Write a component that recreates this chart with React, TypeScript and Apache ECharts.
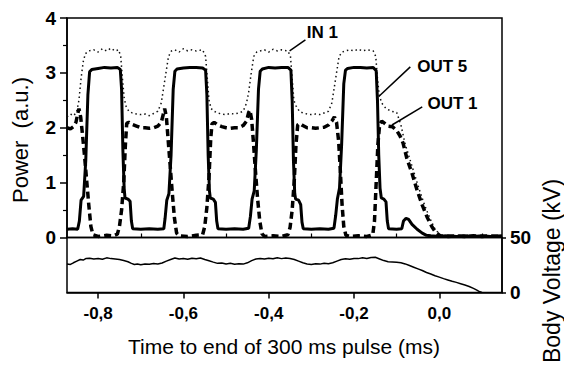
import React, { useEffect, useRef } from "react";
import * as echarts from "echarts";

const X_MIN = -0.873;
const X_MAX = 0.147;
const xMajorTicks = [-0.8, -0.6, -0.4, -0.2, 0.0];
const xMinorTicks = [-0.7, -0.5, -0.3, -0.1, 0.1];

const in1: [number, number][] = [
  [-0.873, 2.2], [-0.865, 2.25], [-0.857, 2.22], [-0.85, 2.3], [-0.845, 2.5], [-0.84, 2.9], [-0.835, 3.2], [-0.83, 3.35],
  [-0.822, 3.4], [-0.81, 3.42], [-0.8, 3.38], [-0.79, 3.44], [-0.78, 3.4], [-0.77, 3.45], [-0.76, 3.4], [-0.752, 3.42],
  [-0.747, 3.3], [-0.743, 2.9], [-0.739, 2.55], [-0.735, 2.4], [-0.728, 2.3], [-0.72, 2.27], [-0.71, 2.25], [-0.7, 2.24],
  [-0.69, 2.25], [-0.68, 2.22], [-0.67, 2.26], [-0.66, 2.3], [-0.652, 2.45], [-0.647, 2.7], [-0.641, 3.0], [-0.635, 3.3],
  [-0.628, 3.4], [-0.62, 3.42], [-0.61, 3.38], [-0.6, 3.44], [-0.59, 3.4], [-0.58, 3.42], [-0.57, 3.4], [-0.555, 3.42],
  [-0.548, 3.3], [-0.544, 2.9], [-0.54, 2.5], [-0.535, 2.35], [-0.528, 2.3], [-0.52, 2.27], [-0.51, 2.25], [-0.5, 2.24],
  [-0.49, 2.26], [-0.48, 2.25], [-0.47, 2.27], [-0.46, 2.3], [-0.452, 2.45], [-0.447, 2.65], [-0.441, 3.0], [-0.435, 3.3],
  [-0.428, 3.38], [-0.42, 3.4], [-0.41, 3.42], [-0.4, 3.38], [-0.39, 3.43], [-0.38, 3.4], [-0.37, 3.42], [-0.355, 3.4],
  [-0.349, 3.3], [-0.345, 2.9], [-0.341, 2.5], [-0.336, 2.4], [-0.328, 2.3], [-0.32, 2.27], [-0.31, 2.25], [-0.3, 2.24],
  [-0.29, 2.25], [-0.28, 2.24], [-0.27, 2.27], [-0.26, 2.3], [-0.252, 2.45], [-0.247, 2.7], [-0.241, 3.0], [-0.235, 3.3],
  [-0.228, 3.38], [-0.22, 3.4], [-0.21, 3.42], [-0.2, 3.4], [-0.19, 3.43], [-0.18, 3.4], [-0.17, 3.42], [-0.155, 3.4],
  [-0.149, 3.3], [-0.145, 2.9], [-0.141, 2.6], [-0.135, 2.45], [-0.125, 2.35], [-0.112, 2.3], [-0.1, 2.28], [-0.09, 2.05],
  [-0.08, 1.7], [-0.07, 1.45], [-0.058, 1.15], [-0.046, 0.85], [-0.034, 0.58], [-0.022, 0.35], [-0.01, 0.15], [0.002, 0.05],
  [0.02, 0.03], [0.06, 0.04], [0.1, 0.03], [0.147, 0.03],
];

const out5: [number, number][] = [
  [-0.873, 0.15], [-0.86, 0.16], [-0.848, 0.15], [-0.844, 0.3], [-0.84, 0.68], [-0.834, 0.75], [-0.829, 1.4], [-0.824, 2.6],
  [-0.82, 3.02], [-0.815, 3.06], [-0.8, 3.08], [-0.785, 3.1], [-0.77, 3.09], [-0.755, 3.1], [-0.748, 3.06], [-0.745, 2.7],
  [-0.742, 1.6], [-0.739, 0.9], [-0.737, 0.72], [-0.73, 0.7], [-0.725, 0.66], [-0.722, 0.3], [-0.719, 0.16], [-0.7, 0.15],
  [-0.68, 0.16], [-0.66, 0.15], [-0.646, 0.16], [-0.643, 0.35], [-0.639, 0.68], [-0.634, 0.8], [-0.629, 1.5], [-0.624, 2.7],
  [-0.62, 3.03], [-0.615, 3.07], [-0.6, 3.09], [-0.585, 3.1], [-0.57, 3.1], [-0.555, 3.09], [-0.548, 3.05], [-0.545, 2.6],
  [-0.542, 1.5], [-0.539, 0.85], [-0.537, 0.72], [-0.53, 0.7], [-0.525, 0.64], [-0.522, 0.3], [-0.519, 0.16], [-0.5, 0.15],
  [-0.48, 0.16], [-0.46, 0.15], [-0.447, 0.17], [-0.443, 0.38], [-0.439, 0.7], [-0.434, 0.85], [-0.429, 1.6], [-0.424, 2.7],
  [-0.42, 3.03], [-0.415, 3.07], [-0.4, 3.1], [-0.385, 3.09], [-0.37, 3.1], [-0.355, 3.1], [-0.348, 3.05], [-0.345, 2.5],
  [-0.342, 1.4], [-0.339, 0.8], [-0.337, 0.7], [-0.33, 0.68], [-0.325, 0.6], [-0.322, 0.28], [-0.319, 0.16], [-0.3, 0.15],
  [-0.28, 0.16], [-0.26, 0.15], [-0.247, 0.17], [-0.243, 0.4], [-0.239, 0.7], [-0.234, 0.9], [-0.229, 1.7], [-0.224, 2.8],
  [-0.22, 3.05], [-0.215, 3.08], [-0.2, 3.1], [-0.185, 3.1], [-0.17, 3.09], [-0.155, 3.1], [-0.148, 3.04], [-0.145, 2.5],
  [-0.142, 1.5], [-0.139, 0.9], [-0.136, 0.72], [-0.13, 0.7], [-0.125, 0.65], [-0.122, 0.3], [-0.119, 0.16], [-0.1, 0.15],
  [-0.088, 0.16], [-0.084, 0.3], [-0.078, 0.35], [-0.072, 0.33], [-0.064, 0.24], [-0.052, 0.15], [-0.04, 0.08],
  [-0.03, 0.04], [-0.02, 0.03], [0.0, 0.02], [0.02, 0.03], [0.04, 0.02], [0.06, 0.03], [0.08, 0.02], [0.1, 0.03],
  [0.12, 0.02], [0.147, 0.03],
];

const out1: [number, number][] = [
  [-0.873, 2.0], [-0.865, 1.98], [-0.858, 2.02], [-0.852, 2.1], [-0.848, 2.25], [-0.845, 2.35], [-0.841, 2.2], [-0.837, 1.9],
  [-0.832, 1.5], [-0.827, 1.05], [-0.822, 0.6], [-0.817, 0.2], [-0.812, 0.05], [-0.8, 0.02], [-0.78, 0.04], [-0.765, 0.03],
  [-0.755, 0.06], [-0.75, 0.2], [-0.745, 0.5], [-0.74, 1.0], [-0.736, 1.7], [-0.733, 2.08], [-0.728, 2.1], [-0.72, 2.06],
  [-0.71, 2.03], [-0.7, 2.0], [-0.69, 2.0], [-0.68, 1.99], [-0.67, 2.0], [-0.66, 2.03], [-0.652, 2.1], [-0.647, 2.25],
  [-0.644, 2.35], [-0.64, 2.2], [-0.636, 1.8], [-0.631, 1.3], [-0.626, 0.8], [-0.621, 0.35], [-0.616, 0.08], [-0.61, 0.03],
  [-0.59, 0.02], [-0.57, 0.04], [-0.555, 0.05], [-0.55, 0.2], [-0.545, 0.55], [-0.54, 1.1], [-0.536, 1.8], [-0.533, 2.07],
  [-0.528, 2.1], [-0.52, 2.05], [-0.51, 2.02], [-0.5, 2.0], [-0.49, 1.99], [-0.48, 2.0], [-0.47, 2.0], [-0.46, 2.04],
  [-0.452, 2.12], [-0.447, 2.28], [-0.444, 2.32], [-0.44, 2.15], [-0.436, 1.75], [-0.431, 1.2], [-0.426, 0.7], [-0.421, 0.3],
  [-0.416, 0.07], [-0.41, 0.02], [-0.39, 0.03], [-0.37, 0.02], [-0.355, 0.05], [-0.35, 0.18], [-0.345, 0.5], [-0.34, 1.05],
  [-0.336, 1.7], [-0.332, 2.05], [-0.327, 2.08], [-0.32, 2.04], [-0.31, 2.0], [-0.3, 2.0], [-0.29, 1.99], [-0.28, 2.0],
  [-0.27, 2.01], [-0.26, 2.05], [-0.252, 2.12], [-0.246, 2.2], [-0.241, 2.1], [-0.236, 1.75], [-0.232, 1.2], [-0.228, 0.6],
  [-0.224, 0.2], [-0.219, 0.04], [-0.21, 0.02], [-0.19, 0.03], [-0.17, 0.02], [-0.156, 0.05], [-0.152, 0.3], [-0.148, 1.0],
  [-0.144, 1.7], [-0.14, 2.05], [-0.135, 2.12], [-0.128, 2.08], [-0.12, 2.03], [-0.11, 2.02], [-0.1, 1.95], [-0.092, 1.85],
  [-0.085, 1.72], [-0.076, 1.44], [-0.064, 1.17], [-0.052, 0.86], [-0.04, 0.59], [-0.029, 0.38], [-0.017, 0.19],
  [-0.009, 0.1], [0.002, 0.03], [0.02, 0.02], [0.04, 0.03], [0.06, 0.02], [0.08, 0.03], [0.1, 0.02], [0.12, 0.03], [0.147, 0.02],
];

const voltage: [number, number][] = [
  [-0.873, 26.0], [-0.865, 25.5], [-0.858, 27], [-0.85, 28.5], [-0.842, 30], [-0.835, 29.5], [-0.828, 31], [-0.82, 31.2],
  [-0.81, 30.5], [-0.8, 31], [-0.79, 30.2], [-0.78, 31.5], [-0.77, 30.8], [-0.76, 30.5], [-0.75, 30], [-0.74, 29],
  [-0.73, 28], [-0.722, 26.5], [-0.715, 25.5], [-0.708, 26], [-0.7, 25.2], [-0.69, 26], [-0.68, 25.6], [-0.67, 26.3],
  [-0.66, 26], [-0.65, 26.8], [-0.64, 28.5], [-0.63, 30], [-0.62, 31.3], [-0.61, 30.5], [-0.6, 31], [-0.59, 30.2],
  [-0.58, 31.2], [-0.57, 30.6], [-0.56, 31.4], [-0.55, 30], [-0.54, 28.8], [-0.53, 27.6], [-0.52, 26.5], [-0.51, 26.8],
  [-0.5, 25.9], [-0.49, 26.5], [-0.48, 25.7], [-0.47, 26.2], [-0.46, 25.8], [-0.45, 27], [-0.44, 29], [-0.43, 30.5],
  [-0.42, 31], [-0.41, 30.4], [-0.4, 31.2], [-0.39, 30.6], [-0.38, 31.5], [-0.37, 30.8], [-0.36, 31.3], [-0.35, 30.9],
  [-0.34, 30], [-0.33, 28.5], [-0.32, 27], [-0.31, 26], [-0.3, 25.5], [-0.29, 26.2], [-0.28, 25.8], [-0.27, 26.5],
  [-0.26, 26.2], [-0.25, 27], [-0.24, 28.5], [-0.23, 30], [-0.22, 30.6], [-0.21, 30.2], [-0.2, 31], [-0.19, 30.8],
  [-0.18, 31.5], [-0.17, 31], [-0.16, 31.8], [-0.15, 32], [-0.14, 30.5], [-0.13, 29], [-0.12, 28], [-0.11, 27.8],
  [-0.1, 27.5], [-0.09, 27], [-0.08, 26], [-0.07, 24.5], [-0.06, 23], [-0.05, 21.5], [-0.04, 20], [-0.03, 18.2],
  [-0.02, 16.8], [-0.01, 15.2], [0.0, 14], [0.01, 12.6], [0.02, 11.4], [0.03, 10.2], [0.04, 9.2], [0.05, 8],
  [0.06, 6.8], [0.07, 5.5], [0.08, 3.8], [0.088, 2.2], [0.095, 0.6], [0.1, 0],
];

// annotation: label text, text position (data coords), leader line start and end (data coords)
const annotations = [
  { text: "IN 1", at: [-0.274, 3.74], from: [-0.314, 3.6], to: [-0.351, 3.4] },
  { text: "OUT 5", at: [0.007, 3.12], from: [-0.068, 3.11], to: [-0.142, 2.57] },
  { text: "OUT 1", at: [0.031, 2.44], from: [-0.04, 2.38], to: [-0.111, 2.05] },
];

const FONT = "'Liberation Sans', Arial, Helvetica, sans-serif";

export default function App() {
  const ref = useRef<HTMLDivElement>(null);
  useEffect(() => {
    if (!ref.current) return;
    const chart = echarts.init(ref.current, undefined, { renderer: "svg" });
    const black = "#000";
    const option: any = {
      animation: false,
      backgroundColor: "#fff",
      textStyle: { fontFamily: FONT },
      grid: [
        { left: 67, top: 18, width: 435, height: 219.5, show: true, borderColor: black, borderWidth: 1.5, backgroundColor: "transparent" },
        { left: 67, top: 237.5, width: 435, height: 55, show: true, borderColor: black, borderWidth: 1.5, backgroundColor: "transparent" },
      ],
      xAxis: [
        {
          gridIndex: 0, type: "value", min: X_MIN, max: X_MAX,
          axisLine: { show: false, onZero: false }, axisTick: { show: false }, axisLabel: { show: false }, splitLine: { show: false },
        },
        {
          gridIndex: 1, type: "value", min: X_MIN, max: X_MAX,
          axisLine: { show: true, onZero: false, lineStyle: { color: black, width: 1.5 } },
          axisTick: { show: true, customValues: xMajorTicks, length: 6, lineStyle: { color: black, width: 1.5 } },
          axisLabel: {
            show: true, customValues: xMajorTicks, margin: 12, fontSize: 17, fontWeight: "bold", color: black, fontFamily: FONT,
            formatter: (v: number) => v.toFixed(1).replace("-0.0", "0.0").replace(".", ","),
          },
          splitLine: { show: false },
        },
        {
          gridIndex: 1, type: "value", min: X_MIN, max: X_MAX,
          axisLine: { show: false, onZero: false },
          axisTick: { show: true, customValues: xMinorTicks, length: 4, lineStyle: { color: black, width: 1.2 } },
          axisLabel: { show: false }, splitLine: { show: false },
        },
      ],
      yAxis: [
        {
          gridIndex: 0, type: "value", min: 0, max: 4, interval: 1, position: "left",
          axisLine: { show: true, onZero: false, lineStyle: { color: black, width: 1.5 } },
          axisTick: { show: true, length: 7, lineStyle: { color: black, width: 1.5 } },
          minorTick: { show: true, splitNumber: 2, length: 4, lineStyle: { color: black, width: 1.2 } },
          axisLabel: { margin: 11, fontSize: 19, fontWeight: "bold", color: black, fontFamily: FONT },
          splitLine: { show: false },
        },
        {
          gridIndex: 1, type: "value", min: 0, max: 50, interval: 50, position: "right",
          axisLine: { show: true, onZero: false, lineStyle: { color: black, width: 1.5 } },
          axisTick: { show: true, length: 4, lineStyle: { color: black, width: 1.5 } },
          axisLabel: { margin: 8, fontSize: 19, fontWeight: "bold", color: black, fontFamily: FONT },
          splitLine: { show: false },
        },
      ],
      series: [
        {
          name: "IN 1", type: "line", xAxisIndex: 0, yAxisIndex: 0, data: in1, showSymbol: false, symbol: "none",
          lineStyle: { color: "#111", width: 1.5, type: [1.5, 3] }, z: 2,
        },
        {
          name: "OUT 5", type: "line", xAxisIndex: 0, yAxisIndex: 0, data: out5, showSymbol: false, symbol: "none",
          lineStyle: { color: black, width: 3 }, z: 3,
        },
        {
          name: "OUT 1", type: "line", xAxisIndex: 0, yAxisIndex: 0, data: out1, showSymbol: false, symbol: "none",
          lineStyle: { color: black, width: 3.5, type: [7, 4] }, z: 4,
        },
        {
          name: "Body Voltage", type: "line", xAxisIndex: 1, yAxisIndex: 1, data: voltage, showSymbol: false, symbol: "none",
          lineStyle: { color: black, width: 1.5 }, z: 3,
        },
      ],
    };
    chart.setOption(option);

    const graphics: any[] = [];
    annotations.forEach((a) => {
      const p = chart.convertToPixel({ gridIndex: 0 }, a.at) as number[];
      const f = chart.convertToPixel({ gridIndex: 0 }, a.from) as number[];
      const t = chart.convertToPixel({ gridIndex: 0 }, a.to) as number[];
      graphics.push({
        type: "line", shape: { x1: f[0], y1: f[1], x2: t[0], y2: t[1] },
        style: { stroke: black, lineWidth: 1.5 }, z: 10,
      });
      graphics.push({
        type: "text", x: p[0], y: p[1], z: 10,
        style: { text: a.text, fill: black, font: `bold 17px ${FONT}`, textAlign: "center", textVerticalAlign: "middle" },
      });
    });
    graphics.push({
      type: "text", x: 20, y: 140, rotation: Math.PI / 2,
      style: { text: "Power  (a.u.)", fill: black, font: `22px ${FONT}`, textAlign: "center", textVerticalAlign: "middle" },
    });
    graphics.push({
      type: "text", x: 552, y: 271, rotation: Math.PI / 2,
      style: { text: "Body Voltage (kV)", fill: black, font: `23px ${FONT}`, textAlign: "center", textVerticalAlign: "middle" },
    });
    graphics.push({
      type: "text", x: 284, y: 346,
      style: { text: "Time to end of 300 ms pulse (ms)", fill: black, font: `21px ${FONT}`, textAlign: "center", textVerticalAlign: "middle" },
    });
    chart.setOption({ graphic: graphics });

    return () => chart.dispose();
  }, []);
  return (
    <div
      ref={ref}
      style={{ position: "fixed", left: 0, top: 0, width: 564, height: 367, background: "#fff" }}
    />
  );
}
